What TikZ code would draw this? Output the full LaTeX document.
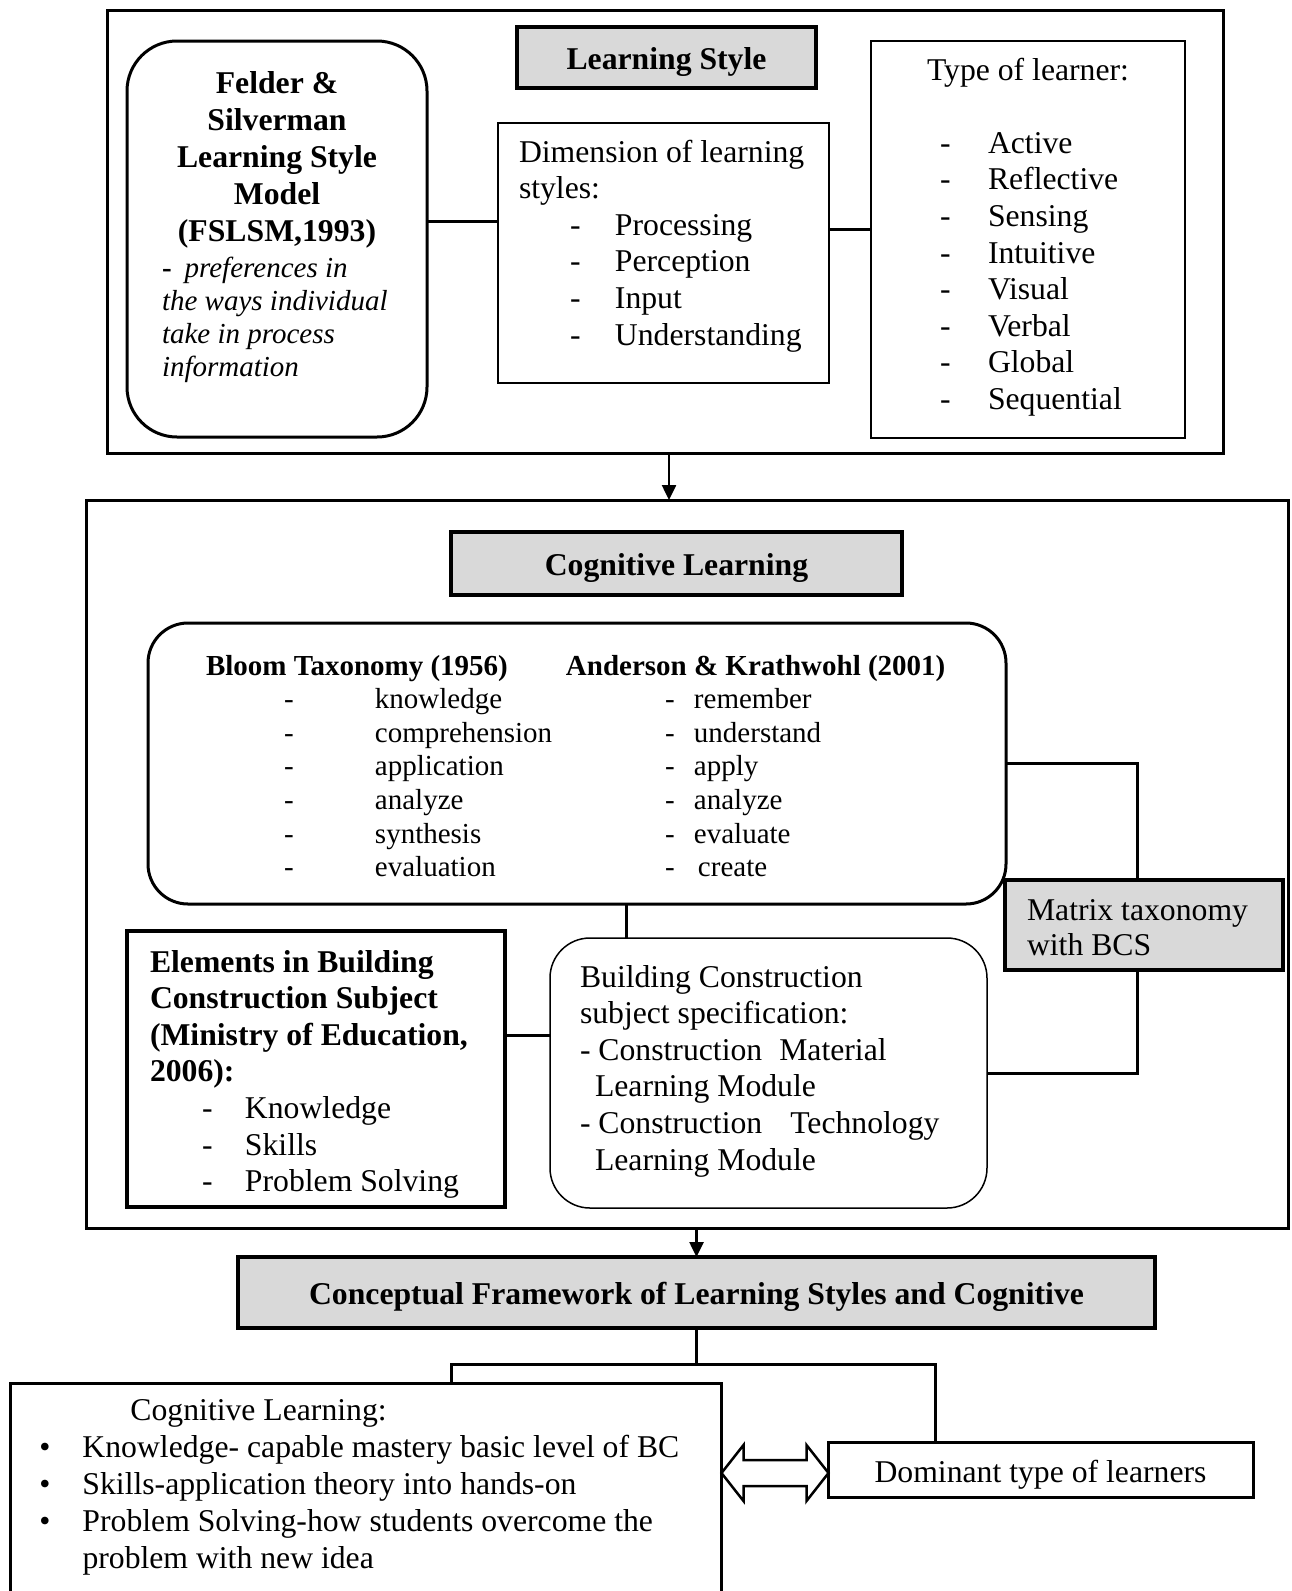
\documentclass[tikz,border=0pt]{standalone}
\usepackage{fontspec}
\setmainfont{Liberation Serif}
\usetikzlibrary{arrows.meta}

% font sizes (1pt = 1px of the figure)
\newcommand{\bodyfont}{\fontsize{31.7}{36.6}\selectfont}
\newcommand{\bloomfont}{\fontsize{29}{33.6}\selectfont}
% box text: width, height, content
\newcommand{\inbox}[3]{\parbox[t][#2][t]{#1}{\raggedright#3}}
% dash item: dash offset, text offset, text
\newcommand{\ditem}[3]{\makebox[#2][l]{\hspace*{#1}-}#3}
% bloom / anderson row
\newcommand{\brow}[3][0pt]{\makebox[169pt][l]{\hspace*{78pt}-}\makebox[290pt][l]{#2}\makebox[29pt][l]{-}\hspace*{#1}#3}
% bullet item
\newcommand{\citem}[1]{\makebox[52pt][l]{\hspace*{9pt}\textbullet}#1}

\begin{document}
\begin{tikzpicture}[x=1pt,y=-1pt,
    every node/.style={font=\bodyfont, inner sep=0pt, outer sep=0pt},
    frame/.style={draw, line width=3pt, anchor=north west},
    headbox/.style={draw, line width=3.5pt, fill=gray!30, font=\bodyfont\bfseries,
      text height=23pt, text depth=0pt},
    thinbox/.style={draw, line width=1.5pt, anchor=north west},
    thickbox/.style={draw, line width=3pt, anchor=north west},
    conn/.style={line width=3pt},
    arr/.style={line width=2.5pt, -{Triangle[length=15pt,width=14pt]}},
    hollow/.style={draw, line width=2.5pt, fill=white, line join=miter}]

  \useasboundingbox (0,0) rectangle (1292,1591);
  \clip (0,0) rectangle (1292,1591);

  % Learning style part
  \node[frame, minimum width=1116, minimum height=443] (lsframe) at (107,10) {};
  \node[headbox, minimum width=299, minimum height=61] (lshead) at (666.5,57.5) {Learning Style};

  \node[thickbox, rounded corners=50pt, inner xsep=30pt, inner ysep=26pt] (fslsm) at (127,41)
    {\inbox{240pt}{344pt}{%
      {\centering\fontsize{31.7}{37.2}\selectfont\bfseries\strut Felder \&\\ Silverman\\
        Learning Style\\ Model\\ (FSLSM,1993)\par}%
      \vspace{1.9pt}%
      {\fontsize{29}{33.3}\selectfont\leftskip=5pt
        \textbf{-}\hspace{13pt}\textit{preferences in}\\ \textit{the ways individual}\\
        \textit{take in process}\\ \textit{information}\par}}};

  \node[thinbox, inner xsep=21pt, inner ysep=13.4pt] (dim) at (498,123)
    {\inbox{289pt}{233.2pt}{\strut Dimension of learning\\ styles:\\
      \ditem{51pt}{96pt}{Processing}\\ \ditem{51pt}{96pt}{Perception}\\
      \ditem{51pt}{96pt}{Input}\\ \ditem{51pt}{96pt}{Understanding}}};

  \node[thinbox, inner xsep=20pt, inner ysep=13.4pt] (learner) at (871,41)
    {\inbox{274pt}{370.2pt}{\strut\hspace*{36pt}Type of learner:\\[36.6pt]
      \ditem{49pt}{97pt}{Active}\\ \ditem{49pt}{97pt}{Reflective}\\
      \ditem{49pt}{97pt}{Sensing}\\ \ditem{49pt}{97pt}{Intuitive}\\
      \ditem{49pt}{97pt}{Visual}\\ \ditem{49pt}{97pt}{Verbal}\\
      \ditem{49pt}{97pt}{Global}\\ \ditem{49pt}{97pt}{Sequential}}};

  % Cognitive learning part
  \node[frame, minimum width=1202, minimum height=728] (cgframe) at (86,500) {};
  \node[headbox, minimum width=451, minimum height=63] (cghead) at (676.5,563.5) {Cognitive Learning};

  \node[thickbox, rounded corners=40pt, inner xsep=58pt, inner ysep=28.5pt] (bloom) at (148,623)
    {\inbox{742pt}{224pt}{\bloomfont\strut
      \makebox[360pt][l]{\bfseries Bloom Taxonomy (1956)}\textbf{Anderson \& Krathwohl (2001)}\\
      \brow{knowledge}{remember}\\ \brow{comprehension}{understand}\\
      \brow{application}{apply}\\ \brow{analyze}{analyze}\\
      \brow{synthesis}{evaluate}\\ \brow[4pt]{evaluation}{create}}};

  \node[thickbox, line width=3.5pt, fill=gray!30, inner xsep=22pt, inner ysep=15.5pt] (matrix) at (1005,880)
    {\inbox{234pt}{59pt}{\fontsize{31.7}{35}\selectfont\strut Matrix taxonomy\\ with BCS}};

  \node[thickbox, line width=3.5pt, inner xsep=23pt, inner ysep=15.4pt] (elem) at (127,931)
    {\inbox{332pt}{245.2pt}{\strut\textbf{Elements in Building}\\ \textbf{Construction Subject}\\
      \textbf{(Ministry of Education,}\\ \textbf{2006):}\\
      \ditem{52pt}{95pt}{Knowledge}\\ \ditem{52pt}{95pt}{Skills}\\
      \ditem{52pt}{95pt}{Problem Solving}}};

  \node[thinbox, rounded corners=40pt, inner xsep=30pt, inner ysep=23.4pt] (bcspec) at (550,938)
    {\inbox{377pt}{223.2pt}{\strut Building Construction\\ subject specification:\\
      - Construction\hspace{17pt}Material\\ \hspace*{15pt}Learning Module\\
      - Construction\hspace{28pt}Technology\\ \hspace*{15pt}Learning Module}};

  % Framework part
  \node[headbox, minimum width=917, minimum height=71] (concept) at (696.5,1292.5)
    {Conceptual Framework of Learning Styles and Cognitive};

  \node[thickbox, inner xsep=20pt, inner ysep=11.1pt] (cogbox) at (10.5,1383)
    {\inbox{671pt}{195pt}{\fontsize{31.7}{37}\selectfont\strut
      \hspace*{100pt}Cognitive Learning:\\
      \citem{Knowledge- capable mastery basic level of BC}\\
      \citem{Skills-application theory into hands-on}\\
      \citem{Problem Solving-how students overcome the}\\
      \hspace*{52pt}problem with new idea}};

  \node[draw, line width=3pt, minimum width=425, minimum height=55, text height=24pt, text depth=0pt]
    (domi) at (1040.5,1470) {Dominant type of learners};

  % Connectors
  \coordinate (r1) at ([yshift=32]dim.west);
  \draw[conn] (r1) -- (r1 -| fslsm.east);
  \coordinate (r2) at ([yshift=10]learner.west);
  \draw[conn] (r2) -- (r2 -| dim.east);

  \coordinate (c0) at ([xshift=4]lsframe.south);
  \draw[arr] (c0) -- (c0 |- cgframe.north);

  \coordinate (c1) at ([xshift=49]bloom.south);
  \draw[conn] (c1) -- (c1 |- bcspec.north);
  \coordinate (m1) at ([xshift=-7]matrix.north);
  \coordinate (m2) at ([xshift=-7]matrix.south);
  \draw[conn] (bloom.east) -| (m1);
  \draw[conn] (bcspec.east) -| (m2);
  \coordinate (r3) at ([yshift=38]bcspec.west);
  \draw[conn] (r3) -- (r3 -| elem.east);

  \draw[arr] (concept.north |- cgframe.south) -- (concept.north);

  \coordinate (split) at ([yshift=-36]concept.south);
  \coordinate (d1) at ([xshift=85]cogbox.north);
  \coordinate (d2) at ([xshift=-105]domi.north);
  \draw[conn] (concept.south) -- (split);
  \draw[conn] (d1) |- (split) -| (d2);

  % Double arrow between boxes
  \coordinate (da) at ([yshift=-3]domi.west -| cogbox.east);
  \draw[hollow] (da) -- ++(22,-28) -- ++(0,15) -- ++(63,0) -- ++(0,-15) -- ++(22,28)
    -- ++(-22,28) -- ++(0,-15) -- ++(-63,0) -- ++(0,15) -- cycle;
\end{tikzpicture}
\end{document}
